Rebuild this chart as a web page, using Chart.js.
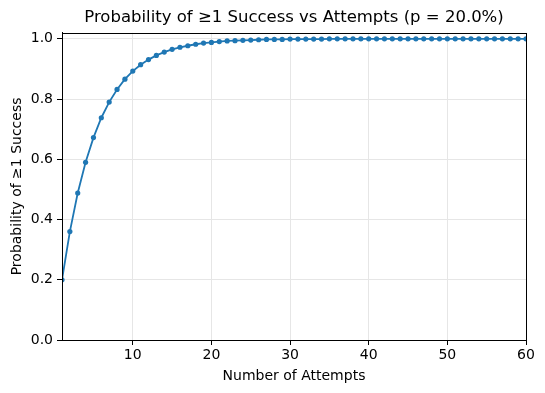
<!DOCTYPE html>
<html lang="en">
<head>
  <meta charset="UTF-8">
  <title>Probability of ≥1 Success vs Attempts</title>
</head>
<style>
  html, body { margin: 0; padding: 0; background: #fff; }
  #wrap { width: 545px; height: 393px; }
</style>
<body>
<div id="wrap">
  <canvas id="probChart" width="545" height="393"></canvas>
</div>

<script src="https://cdn.jsdelivr.net/npm/chart.js"></script>

<script>
  // number of attempts
  const attempts = [1, 2, 3, 4, 5, 6, 7, 8, 9, 10,
    11, 12, 13, 14, 15, 16, 17, 18, 19, 20,
    21, 22, 23, 24, 25, 26, 27, 28, 29, 30,
    31, 32, 33, 34, 35, 36, 37, 38, 39, 40,
    41, 42, 43, 44, 45, 46, 47, 48, 49, 50,
    51, 52, 53, 54, 55, 56, 57, 58, 59, 60];

  // probability of at least one success
  const probability = [0.200, 0.360, 0.488, 0.590, 0.672, 0.738, 0.790, 0.832, 0.866, 0.893,
    0.914, 0.931, 0.945, 0.956, 0.965, 0.972, 0.977, 0.982, 0.986, 0.988,
    0.991, 0.993, 0.994, 0.995, 0.996, 0.997, 0.998, 0.998, 0.998, 0.999,
    0.999, 0.999, 0.999, 0.999, 1.000, 1.000, 1.000, 1.000, 1.000, 1.000,
    1.000, 1.000, 1.000, 1.000, 1.000, 1.000, 1.000, 1.000, 1.000, 1.000,
    1.000, 1.000, 1.000, 1.000, 1.000, 1.000, 1.000, 1.000, 1.000, 1.000];

  const xTicks = [10, 20, 30, 40, 50, 60];
  const yTicks = [0.0, 0.2, 0.4, 0.6, 0.8, 1.0];

  const blue = '#1f77b4';
  const font = "'DejaVu Sans', sans-serif";

  // matplotlib style box round the plot area
  const frame = {
    id: 'frame',
    afterDraw(chart) {
      const a = chart.chartArea;
      const c = chart.ctx;
      c.save();
      c.strokeStyle = '#000';
      c.lineWidth = 1;
      c.strokeRect(Math.round(a.left) + 0.5, Math.round(a.top) + 0.5,
        Math.round(a.right - a.left), Math.round(a.bottom - a.top));
      c.restore();
    }
  };

  const ctx = document.getElementById('probChart').getContext('2d');
  new Chart(ctx, {
    type: 'line',
    data: {
      datasets: [{
        label: 'P(≥1 success)',
        data: attempts.map((n, i) => ({ x: n, y: probability[i] })),
        borderColor: blue,
        backgroundColor: blue,
        borderWidth: 1.8,
        pointRadius: 2.6,
        pointBorderWidth: 0,
        pointHoverRadius: 2.6,
        tension: 0,
        clip: 0
      }]
    },
    options: {
      responsive: false,
      animation: false,
      layout: { padding: { left: 0, right: 19, top: 0, bottom: 0 } },
      plugins: {
        legend: { display: false },
        tooltip: { enabled: false },
        title: {
          display: true,
          fullSize: false,
          text: 'Probability of ≥1 Success vs Attempts (p = 20.0%)',
          color: '#000',
          font: { family: font, size: 16.5, weight: 'normal' },
          padding: { top: 8, bottom: 5 }
        }
      },
      scales: {
        x: {
          type: 'linear',
          min: 1,
          max: 60,
          afterBuildTicks: s => { s.ticks = xTicks.map(v => ({ value: v })); },
          afterFit: s => { s.height = 53; },
          grid: { color: '#e6e6e6', tickColor: '#000', tickLength: 5, lineWidth: 1 },
          border: { display: true, color: '#000' },
          ticks: { color: '#000', font: { family: font, size: 14 }, padding: 2, maxRotation: 0 },
          title: {
            display: true,
            text: 'Number of Attempts',
            color: '#000',
            font: { family: font, size: 14 },
            padding: { top: 0, bottom: 8 }
          }
        },
        y: {
          min: 0,
          max: 1.02,
          afterBuildTicks: s => { s.ticks = yTicks.map(v => ({ value: v })); },
          afterFit: s => { s.width = 62; },
          grid: { color: '#e6e6e6', tickColor: '#000', tickLength: 5, lineWidth: 1 },
          border: { display: true, color: '#000' },
          ticks: {
            color: '#000',
            font: { family: font, size: 14 },
            padding: 4,
            callback: v => v.toFixed(1)
          },
          title: {
            display: true,
            text: 'Probability of ≥1 Success',
            color: '#000',
            font: { family: font, size: 14 },
            padding: { top: 9, bottom: 0 }
          }
        }
      }
    },
    plugins: [frame]
  });
</script>
</body>
</html>
